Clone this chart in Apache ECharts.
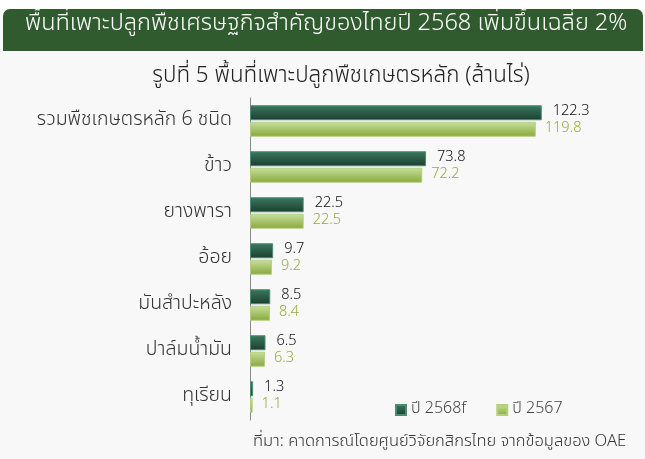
<!DOCTYPE html>
<html><head><meta charset="utf-8">
<script src="https://cdn.jsdelivr.net/npm/echarts@6/dist/echarts.min.js"></script>
<style>html,body{margin:0;padding:0;background:#fff}#c{width:645px;height:459px}</style>
</head><body><div id="c"></div>
<script>
const categories = ['รวมพืชเกษตรหลัก 6 ชนิด','ข้าว','ยางพารา','อ้อย','มันสำปะหลัง','ปาล์มน้ำมัน','ทุเรียน'];
const seriesNames = ['ปี 2568f','ปี 2567'];
const values2568f = [122.3, 73.8, 22.5, 9.7, 8.5, 6.5, 1.3];
const values2567 = [119.8, 72.2, 22.5, 9.2, 8.4, 6.3, 1.1];
const titleText = 'พื้นที่เพาะปลูกพืชเศรษฐกิจสำคัญของไทยปี 2568 เพิ่มขึ้นเฉลี่ย 2%';
const subtitleText = 'รูปที่ 5 พื้นที่เพาะปลูกพืชเกษตรหลัก (ล้านไร่)';
const sourceText = 'ที่มา: คาดการณ์โดยศูนย์วิจัยกสิกรไทย จากข้อมูลของ OAE';

const FONT = '"Noto Sans Thai","Noto Sans","Roboto",sans-serif';
const chart = echarts.init(document.getElementById('c'));
const darkGrad = new echarts.graphic.LinearGradient(0,0,0,1,[{offset:0,color:'#3a7a60'},{offset:1,color:'#1d3d2e'}]);
const lightGrad = new echarts.graphic.LinearGradient(0,0,0,1,[{offset:0,color:'#c9e09c'},{offset:1,color:'#86a83c'}]);
chart.setOption({
  backgroundColor: '#f8f8f8',
  textStyle: {fontFamily: FONT},
  graphic: [
    {type:'rect', left:0, top:0, shape:{width:645, height:9}, style:{fill:'#ffffff'}, z:-1},
    {type:'rect', left:3, top:9, shape:{width:640, height:42, r:[7,7,0,0]}, style:{fill:'#2f5b2e'}, z:0},
    {type:'text', left:25, top:13, style:{text:titleText, fill:'#ffffff', font:'300 23.5px ' + FONT}, z:1},
    {type:'text', left:253, top:434, style:{text:sourceText, fill:'#333333', font:'300 16.5px ' + FONT}, z:1}
  ],
  title: {
    text: subtitleText, left: 336, textAlign: 'center', top: 61,
    textStyle: {fontSize: 22.4, fontWeight: 300, color: '#222', fontFamily: FONT}
  },
  legend: {
    data: seriesNames, left: 390, top: 397, itemWidth: 10, itemHeight: 10, itemGap: 30,
    icon: 'rect',
    textStyle: {fontSize: 16, fontWeight: 300, color: '#444', fontFamily: FONT}
  },
  grid: {left: 250, right: 61, top: 98, bottom: 39, containLabel: false},
  xAxis: {type: 'value', min: 0, max: 140, show: false},
  yAxis: {
    type: 'category', data: categories, inverse: true,
    axisLine: {show: true, lineStyle: {color: '#888', width: 1}},
    axisTick: {show: false},
    axisLabel: {fontSize: 19.5, fontWeight: 300, color: '#333', margin: 18, fontFamily: FONT}
  },
  series: [
    {name: seriesNames[0], type: 'bar', data: values2568f, barWidth: 15, barGap: '10%',
     itemStyle: {color: darkGrad, borderColor: '#4f8a73', borderWidth: 1},
     label: {show: true, position: 'right', fontSize: 14.5, fontWeight: 300, color: '#111', fontFamily: FONT, offset:[6,-1]}},
    {name: seriesNames[1], type: 'bar', data: values2567, barWidth: 15,
     itemStyle: {color: lightGrad, borderColor: '#b5cf80', borderWidth: 1},
     label: {show: true, position: 'right', fontSize: 14.5, fontWeight: 300, color: '#9aab3a', fontFamily: FONT, offset:[4,0]}}
  ]
});
</script></body></html>
